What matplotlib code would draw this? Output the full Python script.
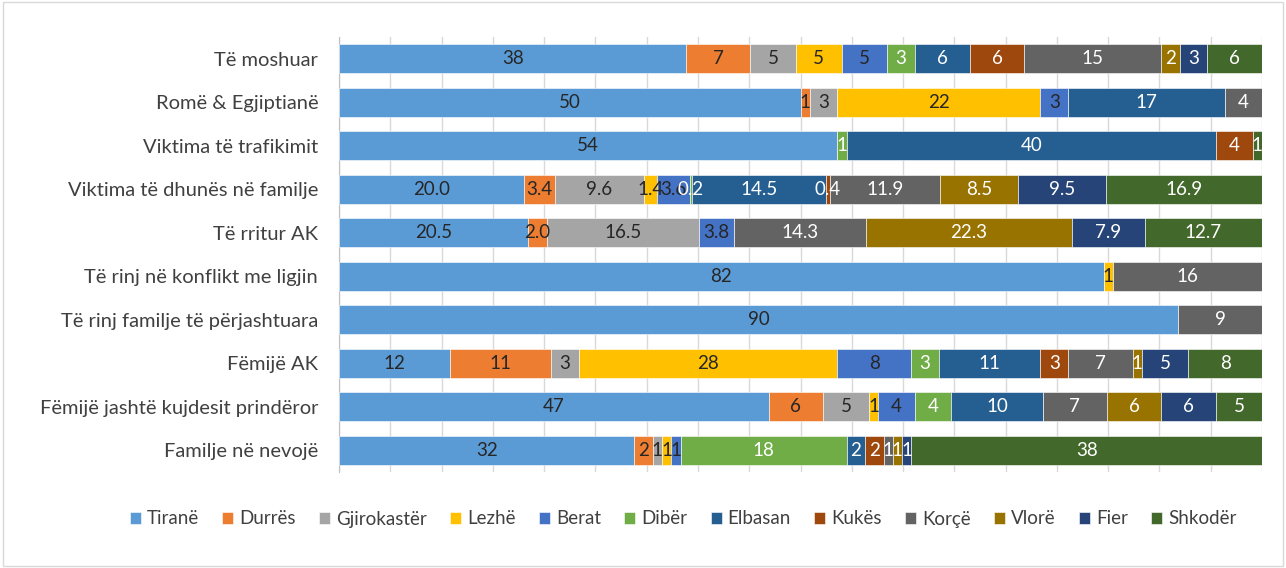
import matplotlib
matplotlib.use("Agg")
import matplotlib.pyplot as plt
import numpy as np
from matplotlib.patches import Rectangle

plt.rcParams['font.family'] = ['Lato', 'DejaVu Sans']

categories = ['Të moshuar', 'Romë & Egjiptianë', 'Viktima të trafikimit',
              'Viktima të dhunës në familje', 'Të rritur AK',
              'Të rinj në konflikt me ligjin', 'Të rinj familje të përjashtuara',
              'Fëmijë AK', 'Fëmijë jashtë kujdesit prindëror', 'Familje në nevojë']

tirane = [38, 50, 54, 20.0, 20.5, 82, 90, 12, 47, 32]
durres = [7, 1, 0, 3.4, 2.0, 0, 0, 11, 6, 2]
gjirokaster = [5, 3, 0, 9.6, 16.5, 0, 0, 3, 5, 1]
lezhe = [5, 22, 0, 1.4, 0, 1, 0, 28, 1, 1]
berat = [5, 3, 0, 3.6, 3.8, 0, 0, 8, 4, 1]
diber = [3, 0, 1, 0.2, 0, 0, 0, 3, 4, 18]
elbasan = [6, 17, 40, 14.5, 0, 0, 0, 11, 10, 2]
kukes = [6, 0, 4, 0.4, 0, 0, 0, 3, 0, 2]
korce = [15, 4, 0, 11.9, 14.3, 16, 9, 7, 7, 1]
vlore = [2, 0, 0, 8.5, 22.3, 0, 0, 1, 6, 1]
fier = [3, 0, 0, 9.5, 7.9, 0, 0, 5, 6, 1]
shkoder = [6, 0, 1, 16.9, 12.7, 0, 0, 8, 5, 38]

regions = ['Tiranë', 'Durrës', 'Gjirokastër', 'Lezhë', 'Berat', 'Dibër',
           'Elbasan', 'Kukës', 'Korçë', 'Vlorë', 'Fier', 'Shkodër']
series = [tirane, durres, gjirokaster, lezhe, berat, diber,
          elbasan, kukes, korce, vlore, fier, shkoder]
# rows whose labels are shown with one decimal
one_decimal = [False, False, False, True, True, False, False, False, False, False]

colors = ['#5B9BD5', '#ED7D31', '#A5A5A5', '#FFC000', '#4472C4', '#70AD47',
          '#255E91', '#9E480E', '#636363', '#997300', '#264478', '#43682B']
text_colors = ['#262626'] * 5 + ['white'] * 7

data = np.array(series, dtype=float)
totals = data.sum(axis=0)
pct = data / totals * 100

fig = plt.figure(figsize=(12.86, 5.68), dpi=100)
ax = fig.add_axes([339 / 1286, 1 - 472 / 568, (1262 - 339) / 1286, (472 - 37) / 568])

y = np.arange(len(categories))
left = np.zeros(len(categories))
for i, name in enumerate(regions):
    ax.barh(y, pct[i], left=left, height=0.67, color=colors[i], label=name,
            edgecolor='white', linewidth=0.4, zorder=3)
    for j in range(len(categories)):
        v = data[i, j]
        if v > 0:
            txt = f'{v:.1f}' if one_decimal[j] else f'{v:.0f}'
            ax.text(left[j] + pct[i, j] / 2, y[j], txt, ha='center', va='center',
                    fontsize=13.5, color=text_colors[i], zorder=4)
    left += pct[i]

ax.set_xlim(0, 100)
ax.set_ylim(len(categories) - 0.5, -0.5)
ax.set_xticks(np.linspace(0, 100, 19))
ax.set_xticklabels([])
ax.tick_params(axis='x', length=0)
ax.grid(axis='x', color='#D9D9D9', linewidth=1, zorder=0)
ax.set_yticks(y)
ax.set_yticklabels(categories, fontsize=14.5, color='#404040')
ax.tick_params(axis='y', length=0, pad=15)
for s in ['top', 'right', 'bottom']:
    ax.spines[s].set_visible(False)
ax.spines['left'].set_color('#BFBFBF')

fig.legend(loc='center', bbox_to_anchor=(683 / 1286, 1 - 519 / 568), ncol=12,
           frameon=False, fontsize=13.5, handlelength=0.6, handleheight=0.6,
           handletextpad=0.3, columnspacing=1.25, labelcolor='#404040')

fig.patches.append(Rectangle((0.002, 0.004), 0.996, 0.992, transform=fig.transFigure,
                             fill=False, edgecolor='#D9D9D9', linewidth=1))

fig.savefig('out.png', dpi=100)
